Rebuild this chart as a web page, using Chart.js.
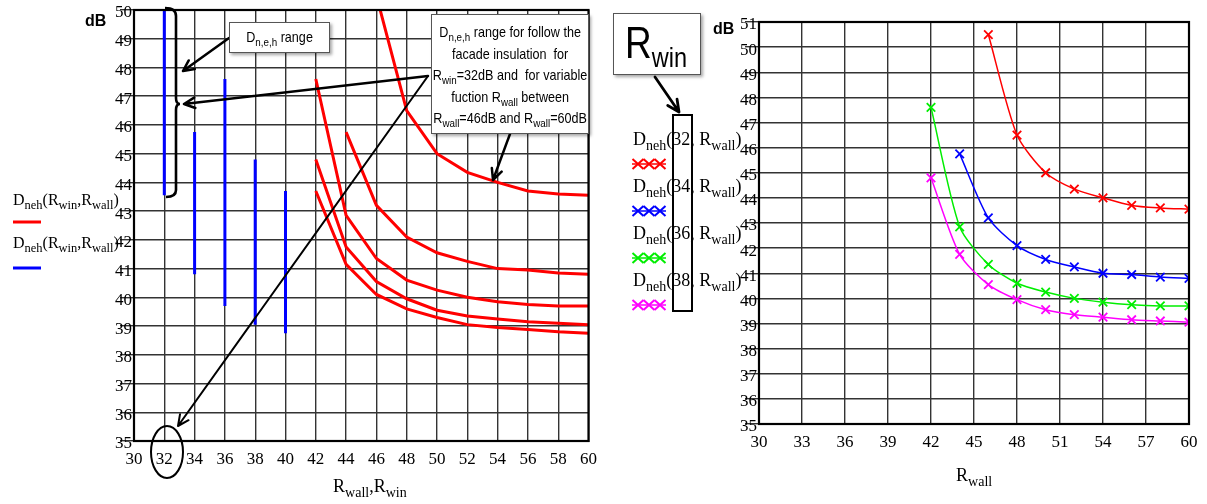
<!DOCTYPE html>
<html><head><meta charset="utf-8">
<script src="https://cdn.jsdelivr.net/npm/chart.js@4.4.0/dist/chart.umd.min.js"></script>
<style>
body{margin:0;background:#fff;}
#wrap{position:relative;width:1207px;height:504px;overflow:hidden;}
canvas{position:absolute;top:0;}
#c1{left:0;} #c2{left:605px;}
.t{position:absolute;white-space:nowrap;color:#000;}
.ser{font-family:"Liberation Serif","Times New Roman",serif;}
.sans{font-family:"Liberation Sans",Arial,sans-serif;}
.bold{font-family:"Liberation Sans",Arial,sans-serif;font-weight:bold;}
sub{font-size:78%;vertical-align:-0.35em;line-height:0;}
svg{position:absolute;left:0;top:0;pointer-events:none;}
.box{position:absolute;box-sizing:border-box;background:#fff;border:1px solid #555;box-shadow:2px 2px 3px rgba(0,0,0,0.35);overflow:hidden;}
.narrow{white-space:nowrap;text-align:center;transform:scaleX(0.84);transform-origin:0 0;}
</style></head>
<body>
<div id="wrap">
<canvas id="c1" width="605" height="504"></canvas>
<canvas id="c2" width="602" height="504"></canvas>
<svg id="ann" width="1207" height="504"></svg>
</div>
<script>
// ---------- data ----------
const rwallPts = [42, 44, 46, 48, 50, 52, 54, 56, 58, 60];
const rwinVals = [32, 34, 36, 38, 40];
const dneh32 = [null, null, 50.5, 46.5, 45.0, 44.35, 44.0, 43.7, 43.6, 43.55];
const dneh34 = [null, 45.75, 43.2, 42.1, 41.55, 41.25, 41.0, 40.95, 40.85, 40.8];
const dneh36 = [47.6, 42.85, 41.35, 40.6, 40.25, 40.0, 39.85, 39.75, 39.7, 39.7];
const dneh38 = [44.8, 41.75, 40.55, 39.95, 39.55, 39.35, 39.25, 39.15, 39.1, 39.05];
const dneh40 = [43.7, 41.15, 40.1, 39.6, 39.3, 39.05, 38.95, 38.88, 38.8, 38.75];
const xTicksLeft = [30, 32, 34, 36, 38, 40, 42, 44, 46, 48, 50, 52, 54, 56, 58, 60];
const yTicksLeft = [35, 36, 37, 38, 39, 40, 41, 42, 43, 44, 45, 46, 47, 48, 49, 50];
const xTicksRight = [30, 33, 36, 39, 42, 45, 48, 51, 54, 57, 60];
const yTicksRight = [35, 36, 37, 38, 39, 40, 41, 42, 43, 44, 45, 46, 47, 48, 49, 50, 51];
const rightSeries = [dneh32, dneh34, dneh36, dneh38];
const rightColors = ['#ff0000', '#0000ff', '#00ee00', '#ff00ff'];
const allSeries = [dneh32, dneh34, dneh36, dneh38, dneh40];

const pts = s => rwallPts.map((x, i) => ({x, y: s[i]})).filter(p => p.y !== null);
const fixTicks = arr => (sc) => { sc.ticks = arr.map(v => ({value: v})); };

const borderPlugin = {
  id: 'frame',
  afterDatasetsDraw(ch) {
    const a = ch.chartArea, c = ch.ctx;
    c.save(); c.strokeStyle = '#000'; c.lineWidth = 2.2;
    c.strokeRect(a.left, a.top, a.right - a.left, a.bottom - a.top);
    c.restore();
  }
};

const tickFont = {family: '"Liberation Serif","Times New Roman",serif', size: 17};

function makeScales(xt, yt, xmin, xmax, ymin, ymax, yW, xH) {
  return {
    x: {type: 'linear', min: xmin, max: xmax, afterBuildTicks: fixTicks(xt),
        afterFit: s => { s.height = xH; },
        grid: {color: '#333', lineWidth: 1.4, drawTicks: false},
        border: {display: true, color: '#000', width: 2},
        ticks: {font: tickFont, color: '#000', padding: 8, maxRotation: 0, autoSkip: false}},
    y: {type: 'linear', min: ymin, max: ymax, afterBuildTicks: fixTicks(yt),
        afterFit: s => { s.width = yW; },
        grid: {color: '#333', lineWidth: 1.4, drawTicks: true, tickLength: 14},
        border: {display: true, color: '#000', width: 2},
        ticks: {font: tickFont, color: '#000', padding: -12, labelOffset: 3, autoSkip: false}}
  };
}

// ---------- left chart ----------
const leftSets = [];
allSeries.forEach(s => leftSets.push({data: pts(s), borderColor: '#ff0000', borderWidth: 3,
  pointRadius: 0, tension: 0, fill: false}));
rwinVals.forEach((w, i) => {
  const vals = allSeries[i].filter(v => v !== null);
  leftSets.push({data: [{x: w, y: Math.max(...vals)}, {x: w, y: Math.min(...vals)}],
    borderColor: '#0000ff', borderWidth: 3, pointRadius: 0, fill: false});
});
new Chart(document.getElementById('c1'), {
  type: 'line',
  data: {datasets: leftSets},
  options: {responsive: false, animation: false, events: [],
    layout: {padding: {left: 0, top: 10, right: 13, bottom: 0}},
    plugins: {legend: {display: false}, tooltip: {enabled: false}},
    scales: makeScales(xTicksLeft, yTicksLeft, 30, 60, 35, 50, 134, 63)},
  plugins: [borderPlugin]
});

// ---------- right chart ----------
new Chart(document.getElementById('c2'), {
  type: 'line',
  data: {datasets: rightSeries.map((s, i) => ({data: pts(s), borderColor: rightColors[i],
    pointBorderColor: rightColors[i], borderWidth: 1.5, pointStyle: 'crossRot', pointRadius: 6,
    pointBorderWidth: 1.8, tension: 0.25, fill: false}))},
  options: {responsive: false, animation: false, events: [],
    layout: {padding: {left: 0, top: 22, right: 18, bottom: 0}},
    plugins: {legend: {display: false}, tooltip: {enabled: false}},
    scales: makeScales(xTicksRight, yTicksRight, 30, 60, 35, 51, 154, 80)},
  plugins: [borderPlugin]
});

// ---------- annotations ----------
function arrow(x1, y1, x2, y2, w, head) {
  const a = Math.atan2(y2 - y1, x2 - x1), h = head || 12, sp = 0.45;
  const p1 = [x2 - h * Math.cos(a - sp), y2 - h * Math.sin(a - sp)];
  const p2 = [x2 - h * Math.cos(a + sp), y2 - h * Math.sin(a + sp)];
  return `<path d="M${x1},${y1} L${x2},${y2} M${p1[0]},${p1[1]} L${x2},${y2} L${p2[0]},${p2[1]}" stroke="#000" stroke-width="${w}" fill="none" stroke-linecap="round" stroke-linejoin="round"/>`;
}
function crosses(y, col) {
  let s = `<line x1="632" y1="${y}" x2="666" y2="${y}" stroke="${col}" stroke-width="1.5"/>`;
  [638, 649, 660].forEach(cx => {
    s += `<path d="M${cx-5.5},${y-5} L${cx+5.5},${y+5} M${cx-5.5},${y+5} L${cx+5.5},${y-5}" stroke="${col}" stroke-width="2"/>`;
  });
  return s;
}
let svg = '';
svg += `<path d="M165,8 Q176,8 176,16 L176,98 Q176,104 180,104 Q176,104 176,110 L176,190 Q176,197 166,197" stroke="#000" stroke-width="2.6" fill="none"/>`;
svg += arrow(229, 38, 183, 71, 2.5);
svg += arrow(428, 76, 184, 104, 2.5);
svg += arrow(428, 76, 178, 426, 2);
svg += arrow(510, 134, 493, 180, 2.5);
svg += `<ellipse cx="167" cy="452" rx="16" ry="26" stroke="#000" stroke-width="2" fill="none"/>`;
svg += `<line x1="13" y1="222" x2="41" y2="222" stroke="#ff0000" stroke-width="3"/>`;
svg += `<line x1="13" y1="268" x2="41" y2="268" stroke="#0000ff" stroke-width="3"/>`;
svg += arrow(655, 77, 679, 112, 2.8, 13);
svg += crosses(164, '#ff0000') + crosses(211, '#0000ff') + crosses(258, '#00ee00') + crosses(305, '#ff00ff');
document.getElementById('ann').innerHTML = svg;

const wrap = document.getElementById('wrap');
function add(html, cls, style) {
  const d = document.createElement('div');
  d.className = cls; d.style.cssText = style; d.innerHTML = html; wrap.appendChild(d); return d;
}
add('dB', 't bold', 'left:85px;top:12px;font-size:16px;');
add('dB', 't bold', 'left:713px;top:20px;font-size:16px;');
add('R<sub>wall</sub>,R<sub>win</sub>', 't ser', 'left:333px;top:477px;font-size:18px;line-height:18px;');
add('R<sub>wall</sub>', 't ser', 'left:956px;top:466px;font-size:18px;line-height:18px;');
add('D<sub>neh</sub>(R<sub>win</sub>,R<sub>wall</sub>)', 't ser', 'left:13px;top:192px;font-size:16px;line-height:16px;');
add('D<sub>neh</sub>(R<sub>win</sub>,R<sub>wall</sub>)', 't ser', 'left:13px;top:235px;font-size:16px;line-height:16px;');
// callouts
add('<div class="narrow" style="width:118px;line-height:28px;font-size:15px;">D<sub>n,e,h</sub> range</div>', 'box sans', 'left:229px;top:22px;width:101px;height:31px;');
add('<div class="narrow" style="width:186px;font-size:15px;line-height:21.5px;padding-top:6px;">D<sub>n,e,h</sub> range for follow the<br>facade insulation&nbsp; for<br>R<sub>win</sub>=32dB and&nbsp; for variable<br>fuction R<sub>wall</sub> between<br>R<sub>wall</sub>=46dB and R<sub>wall</sub>=60dB</div>',
    'box sans', 'left:431px;top:14px;width:158px;height:120px;');
// right legend
const rLabels = ['32', '34', '36', '38'];
rLabels.forEach((w, i) => {
  add('D<sub>neh</sub>(' + w + ', R<sub>wall</sub>)', 't ser', `left:633px;top:${130 + i * 47}px;font-size:18px;line-height:18px;`);
});
add('', 't', 'left:672px;top:114px;width:21px;height:198px;border:2.6px solid #000;box-sizing:border-box;');
add('<div class="narrow" style="width:100px;"><span style="font-size:44px;">R</span><span style="font-size:28px;position:relative;top:9px;">win</span></div>', 'box', 'left:613px;top:13px;width:88px;height:62px;font-family:\'Liberation Sans\',Arial,sans-serif;line-height:58px;');
</script>
</body></html>
